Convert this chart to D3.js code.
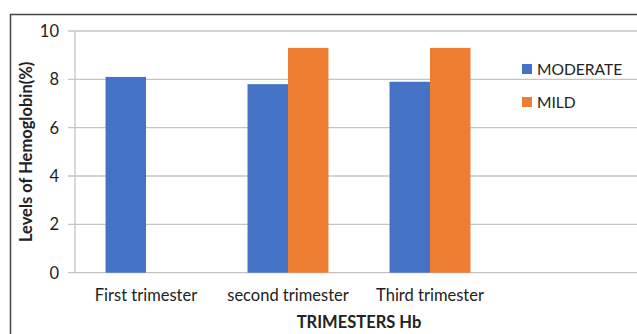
<!DOCTYPE html>
<html><head><meta charset="utf-8">
<script src="https://cdn.jsdelivr.net/npm/d3@7"></script>
<style>
html,body{margin:0;padding:0;background:#fff;}
svg{display:block;font-family:Lato,"Open Sans",sans-serif;}
</style></head>
<body>
<svg id="chart" width="637" height="334"></svg>
<script>
const categories = ["First trimester", "second trimester", "Third trimester"];
const seriesNames = ["MODERATE", "MILD"];
const moderate = [8.1, 7.8, 7.9];
const mild = [null, 9.3, 9.3];
const yTicks = [0, 2, 4, 6, 8, 10];
const colors = ["#4472C4", "#ED7D31"];
const xTitle = "TRIMESTERS Hb";
const yTitle = "Levels of Hemoglobin(%)";

(function () {
const svg = d3.select("#chart");
const W = 637, H = 334;
const mLeft = 75, mTop = 31, mBottom = 272.7, plotRight = 643;
const step = 142;

// frame
svg.append("path").attr("d", `M10.5,${H} V14.5 H${W}`).attr("fill","none")
  .attr("stroke","#444").attr("stroke-width",1.5);

const x = d3.scaleBand().domain(categories).range([mLeft, mLeft + step*categories.length])
  .paddingInner(0.43).paddingOuter(0.215);
const xs = d3.scaleBand().domain(seriesNames).range([0, x.bandwidth()]);
const y = d3.scaleLinear().domain([0, 10]).range([mBottom, mTop]);

// gridlines
svg.append("g").selectAll("line").data(yTicks).join("line")
  .attr("x1", mLeft - 7).attr("x2", plotRight)
  .attr("y1", d => y(d)).attr("y2", d => y(d))
  .attr("stroke", "#c4c4c4").attr("stroke-width", 1.3);
// y axis line
svg.append("line").attr("x1", mLeft).attr("x2", mLeft).attr("y1", mTop).attr("y2", mBottom)
  .attr("stroke", "#c4c4c4").attr("stroke-width", 1.3);

// y tick labels
svg.append("g").selectAll("text").data(yTicks).join("text")
  .attr("x", 59).attr("y", d => y(d)).attr("dy", "0.36em")
  .attr("text-anchor", "end").attr("font-size", 16.5).attr("fill", "#222")
  .text(d => d);

// bars
const rows = categories.map((c, i) => ({c, vals: [moderate[i], mild[i]]}));
const g = svg.append("g").selectAll("g").data(rows).join("g")
  .attr("transform", d => `translate(${x(d.c)},0)`);
g.selectAll("rect").data(d => d.vals.map((v, j) => ({v, s: seriesNames[j], j})).filter(e => e.v != null))
  .join("rect")
  .attr("x", e => xs(e.s)).attr("width", xs.bandwidth())
  .attr("y", e => y(e.v)).attr("height", e => y(0) - y(e.v))
  .attr("fill", e => colors[e.j]);

// category labels
svg.append("g").selectAll("text").data(categories).join("text")
  .attr("x", d => x(d) + x.bandwidth()/2).attr("y", 301)
  .attr("text-anchor", "middle").attr("font-size", 16.5).attr("fill", "#222")
  .text(d => d);

// axis titles
svg.append("text").attr("x", (mLeft + plotRight)/2).attr("y", 328)
  .attr("text-anchor", "middle").attr("font-size", 16.5).attr("font-weight", "bold")
  .attr("fill", "#222").text(xTitle);
svg.append("text").attr("transform", `translate(32,${(mTop+mBottom)/2}) rotate(-90)`)
  .attr("text-anchor", "middle").attr("font-size", 16.5).attr("font-weight", "bold")
  .attr("fill", "#222").text(yTitle);

// legend
const lg = svg.append("g").selectAll("g").data(seriesNames).join("g")
  .attr("transform", (d, i) => `translate(522,${64 + i*33})`);
lg.append("rect").attr("width", 10).attr("height", 10).attr("fill", (d, i) => colors[i]);
lg.append("text").attr("x", 15).attr("y", 10.5).attr("font-size", 15.6).attr("fill", "#222")
  .text(d => d);
})();
</script>
</body></html>
